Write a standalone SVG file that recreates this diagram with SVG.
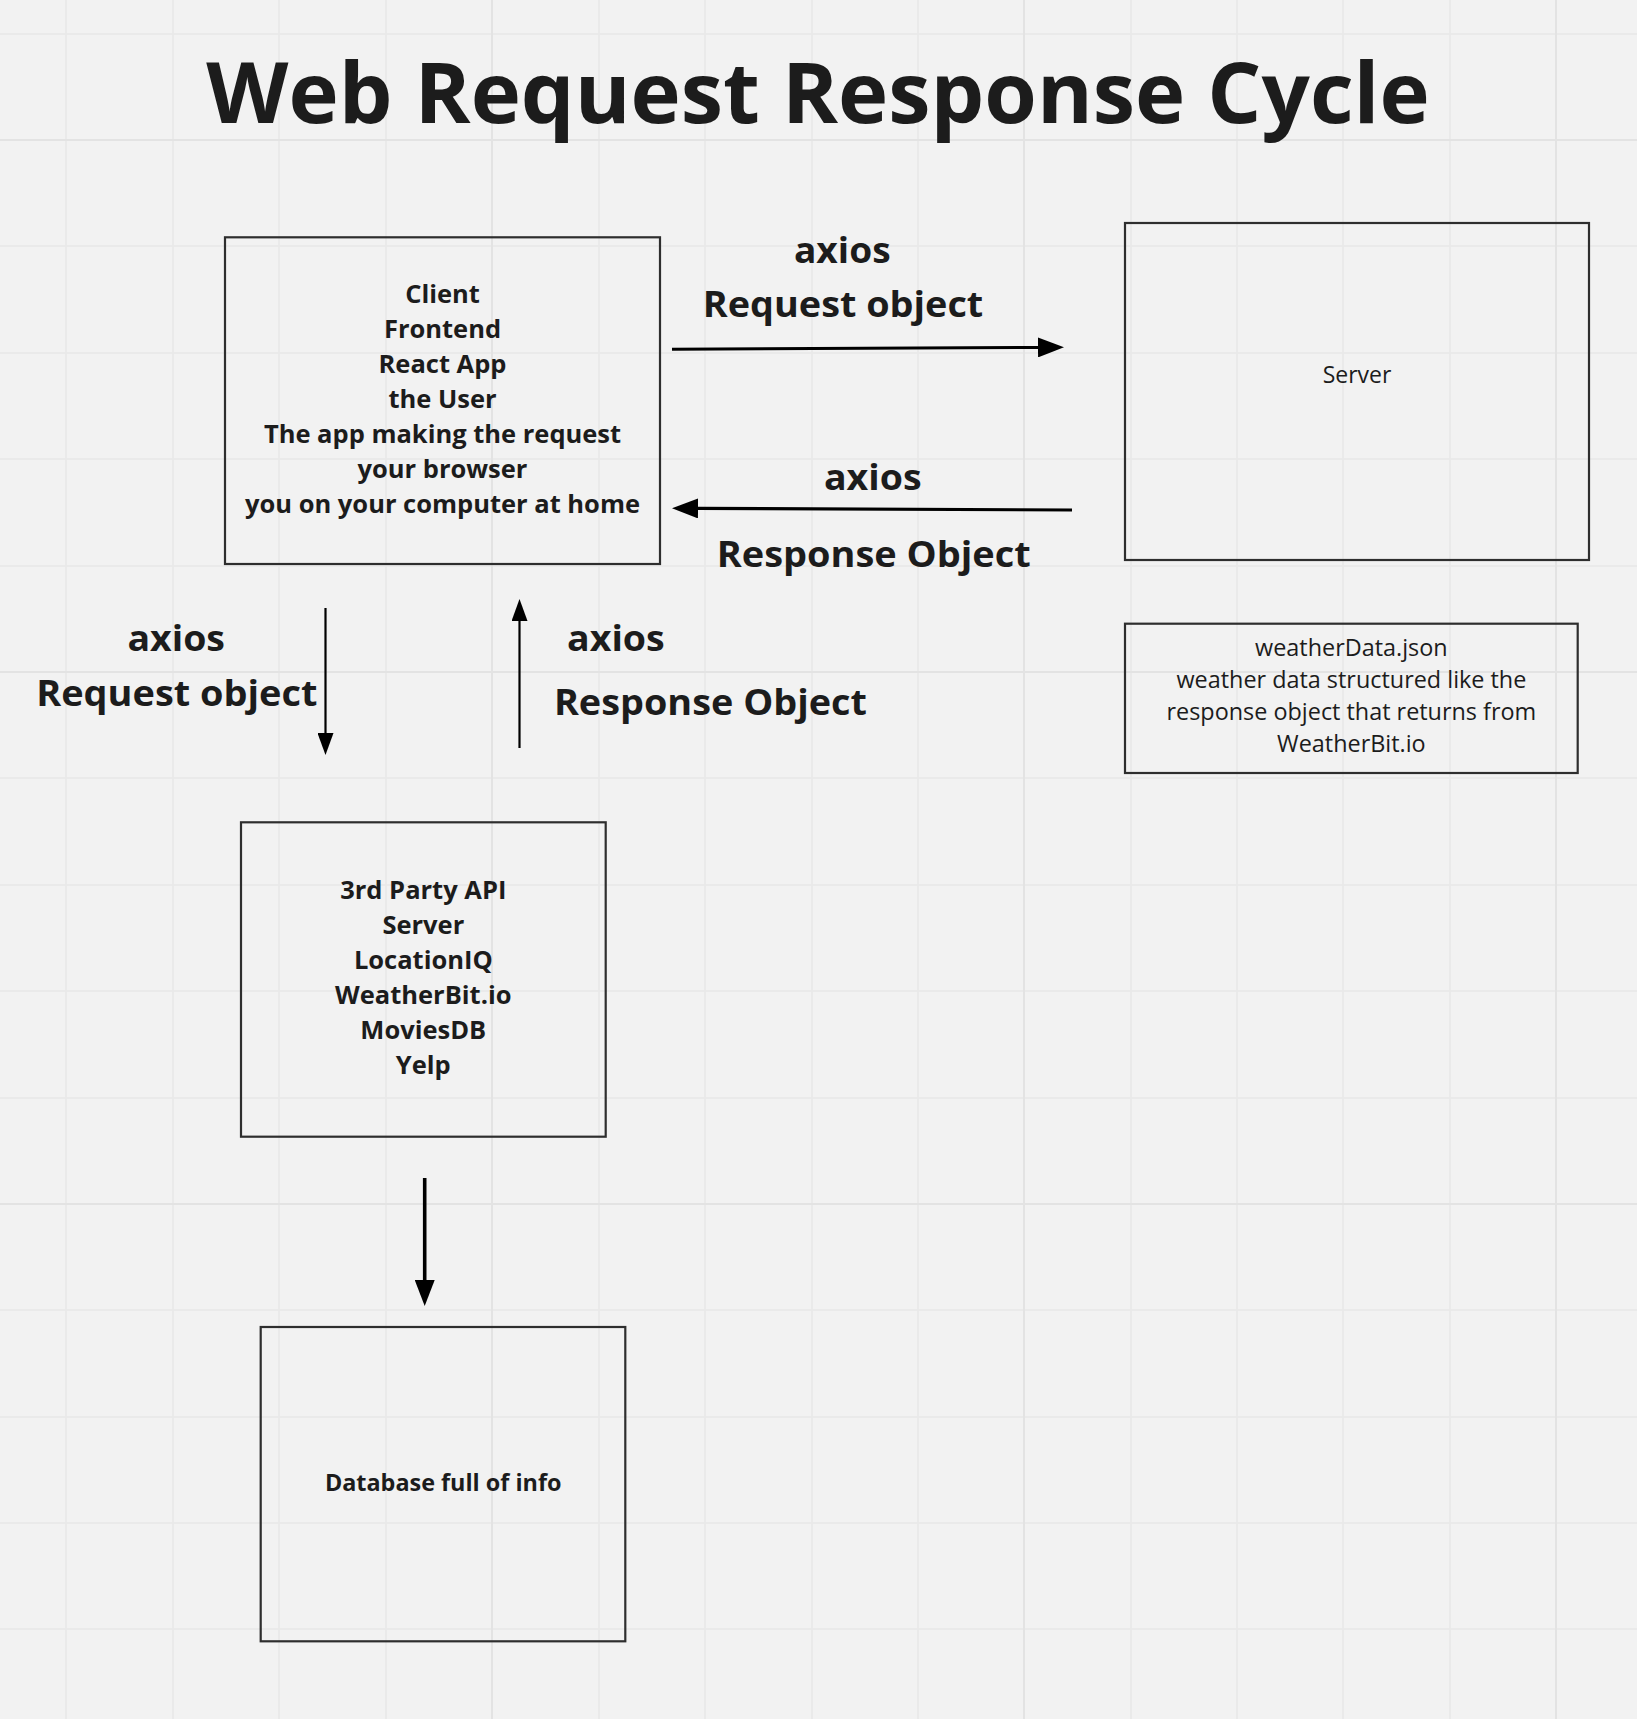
<svg xmlns="http://www.w3.org/2000/svg" width="1637" height="1719" viewBox="0 0 1637 1719">
<style>
.bg{fill:#f2f2f2}
.grid{stroke:#e8e8e8;stroke-width:1.5;fill:none}
.gridm{stroke:#e3e3e3;stroke-width:2;fill:none}
.box{fill:none;stroke:#2e2e2e;stroke-width:2.2}
.b{font-family:"Open Sans","DejaVu Sans",sans-serif;font-weight:700;fill:#1c1c1c;text-anchor:middle}
.r{font-family:"Open Sans","DejaVu Sans",sans-serif;font-weight:400;fill:#1c1c1c;text-anchor:middle}
.nt{font-size:25.5px}
.lbl{font-size:36px}
.sm{font-size:23.4px}
.arr{stroke:#000;fill:none}
</style>
<defs>
<marker id="ah" viewBox="0 0 26 20" refX="1" refY="10" markerWidth="26" markerHeight="20" markerUnits="userSpaceOnUse" orient="auto"><path d="M0,0 L26,10 L0,20 z" fill="#000"/></marker>
<marker id="ahs" viewBox="0 0 22 16" refX="1" refY="8" markerWidth="22" markerHeight="16" markerUnits="userSpaceOnUse" orient="auto"><path d="M0,0 L22,8 L0,16 z" fill="#000"/></marker>
</defs>
<rect class="bg" x="0" y="0" width="1637" height="1719"/>
<g id="grid">
<path class="grid" d="M66,0V1719M173,0V1719M279,0V1719M386,0V1719M599,0V1719M705,0V1719M812,0V1719M918,0V1719M1131,0V1719M1237,0V1719M1343,0V1719M1450,0V1719M0,34H1637M0,246H1637M0,353H1637M0,459H1637M0,566H1637M0,778H1637M0,885H1637M0,991H1637M0,1098H1637M0,1310H1637M0,1417H1637M0,1523H1637M0,1629H1637"/>
<path class="gridm" d="M492,0V1719M1024,0V1719M1556,0V1719M0,140H1637M0,672H1637M0,1204H1637"/>
</g>
<text id="title" class="b" x="818" y="123" font-size="85">Web Request Response Cycle</text>
<g id="connectors">
<line class="arr" stroke-width="3" x1="672" y1="349.3" x2="1039" y2="347.4" marker-end="url(#ah)"/>
<line class="arr" stroke-width="3.2" x1="1072" y1="510" x2="697" y2="508.4" marker-end="url(#ah)"/>
<line class="arr" stroke-width="2.2" x1="325.5" y1="608" x2="325.5" y2="734" marker-end="url(#ahs)"/>
<line class="arr" stroke-width="2.2" x1="519.5" y1="748" x2="519.5" y2="620" marker-end="url(#ahs)"/>
<line class="arr" stroke-width="3.6" x1="424.7" y1="1178" x2="424.7" y2="1281" marker-end="url(#ah)"/>
<text class="b lbl" x="842.3" y="262.7" textLength="96.7" lengthAdjust="spacingAndGlyphs">axios</text>
<text class="b lbl" x="843" y="317.3" textLength="280.6" lengthAdjust="spacingAndGlyphs">Request object</text>
<text class="b lbl" x="872.8" y="490" textLength="97.7" lengthAdjust="spacingAndGlyphs">axios</text>
<text class="b lbl" x="873.7" y="566.7" textLength="314" lengthAdjust="spacingAndGlyphs">Response Object</text>
<text class="b lbl" x="176.2" y="651" textLength="97.6" lengthAdjust="spacingAndGlyphs">axios</text>
<text class="b lbl" x="176.8" y="705.7" textLength="281.3" lengthAdjust="spacingAndGlyphs">Request object</text>
<text class="b lbl" x="615.9" y="651" textLength="97.8" lengthAdjust="spacingAndGlyphs">axios</text>
<text class="b lbl" x="710.4" y="715" textLength="313" lengthAdjust="spacingAndGlyphs">Response Object</text>
</g>
<g id="client">
<rect class="box" x="225" y="237.3" width="435" height="326.7"/>
<text class="b nt" x="442.5" y="302.7">Client</text>
<text class="b nt" x="442.5" y="337.7">Frontend</text>
<text class="b nt" x="442.5" y="373">React App</text>
<text class="b nt" x="442.5" y="408">the User</text>
<text class="b nt" x="442.5" y="442.7">The app making the request</text>
<text class="b nt" x="442.5" y="477.7">your browser</text>
<text class="b nt" x="442.5" y="513">you on your computer at home</text>
</g>
<g id="server">
<rect class="box" x="1125" y="223" width="464" height="337"/>
<text class="r" x="1357" y="382.5" font-size="23">Server</text>
</g>
<g id="weatherdata">
<rect class="box" x="1125" y="623.7" width="452.7" height="149.3"/>
<text class="r sm" x="1351.4" y="656">weatherData.json</text>
<text class="r sm" x="1351.4" y="688">weather data structured like the</text>
<text class="r sm" x="1351.4" y="719.7">response object that returns from</text>
<text class="r sm" x="1351.4" y="751.5">WeatherBit.io</text>
</g>
<g id="api">
<rect class="box" x="241" y="822.3" width="364.7" height="314.4"/>
<text class="b nt" x="423.3" y="899">3rd Party API</text>
<text class="b nt" x="423.3" y="934">Server</text>
<text class="b nt" x="423.3" y="969">LocationIQ</text>
<text class="b nt" x="423.3" y="1004">WeatherBit.io</text>
<text class="b nt" x="423.3" y="1039">MoviesDB</text>
<text class="b nt" x="423.3" y="1074">Yelp</text>
</g>
<g id="database">
<rect class="box" x="260.7" y="1327" width="364.6" height="314.3"/>
<text class="b" x="443.2" y="1490.7" font-size="23.4">Database full of info</text>
</g>
</svg>
